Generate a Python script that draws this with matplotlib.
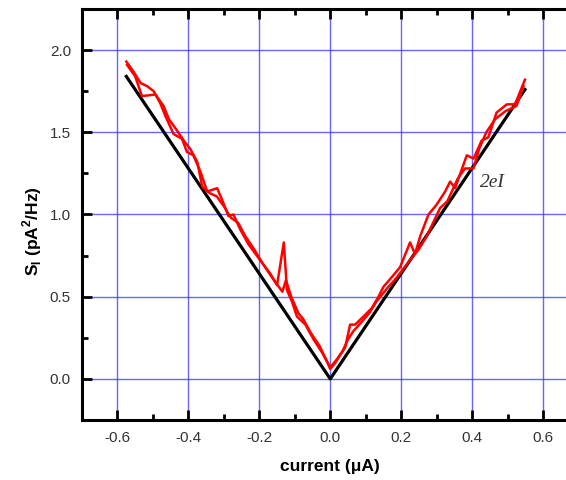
import matplotlib
matplotlib.use("Agg")
import matplotlib.pyplot as plt
from matplotlib.ticker import MultipleLocator
import numpy as np

# Red trace A (sweep 1)
xa = [-0.575, -0.555, -0.535, -0.516, -0.498, -0.480, -0.465, -0.442, -0.418, -0.404,
      -0.386, -0.366, -0.347, -0.319, -0.305, -0.287, -0.273, -0.254, -0.231, -0.197,
      -0.169, -0.150, -0.131, -0.122, -0.108, -0.094, -0.070, -0.047, -0.023, 0.0,
      0.019, 0.042, 0.056, 0.070, 0.094, 0.117, 0.136, 0.150, 0.174, 0.197,
      0.225, 0.239, 0.254, 0.277, 0.300, 0.324, 0.338, 0.352, 0.385, 0.404,
      0.427, 0.446, 0.469, 0.498, 0.521, 0.549]
ya = [1.93, 1.87, 1.80, 1.78, 1.75, 1.68, 1.60, 1.49, 1.46, 1.38,
      1.36, 1.26, 1.14, 1.16, 1.09, 0.99, 1.00, 0.91, 0.82, 0.72,
      0.64, 0.57, 0.83, 0.54, 0.47, 0.38, 0.33, 0.24, 0.16, 0.07,
      0.12, 0.19, 0.33, 0.33, 0.38, 0.43, 0.50, 0.56, 0.62, 0.68,
      0.83, 0.76, 0.87, 1.00, 1.06, 1.14, 1.20, 1.16, 1.36, 1.34,
      1.45, 1.47, 1.62, 1.67, 1.67, 1.82]

# Red trace B (sweep 2)
xb = [-0.573, -0.550, -0.531, -0.493, -0.470, -0.455, -0.435, -0.410, -0.395, -0.375,
      -0.361, -0.340, -0.320, -0.300, -0.280, -0.260, -0.240, -0.215, -0.190, -0.165,
      -0.145, -0.135, -0.125, -0.110, -0.090, -0.075, -0.055, -0.030, -0.010, 0.0,
      0.015, 0.035, 0.050, 0.065, 0.090, 0.110, 0.130, 0.160, 0.185, 0.210,
      0.235, 0.250, 0.270, 0.290, 0.310, 0.330, 0.345, 0.360, 0.380, 0.404,
      0.420, 0.440, 0.465, 0.495, 0.525, 0.545]
yb = [1.91, 1.84, 1.72, 1.73, 1.66, 1.58, 1.52, 1.44, 1.40, 1.32,
      1.17, 1.13, 1.11, 1.05, 0.98, 0.95, 0.87, 0.79, 0.70, 0.62,
      0.56, 0.53, 0.60, 0.50, 0.40, 0.36, 0.28, 0.20, 0.11, 0.06,
      0.10, 0.17, 0.24, 0.29, 0.35, 0.40, 0.47, 0.55, 0.61, 0.68,
      0.75, 0.79, 0.86, 0.95, 1.04, 1.08, 1.15, 1.22, 1.28, 1.28,
      1.40, 1.50, 1.58, 1.63, 1.66, 1.78]

# Black 2eI line
x_shot = [-0.575, 0.0, 0.549]
y_shot = [1.84, 0.0, 1.76]

x_ticks = [-0.6, -0.4, -0.2, 0.0, 0.2, 0.4, 0.6]
y_ticks = [0.0, 0.5, 1.0, 1.5, 2.0]

plt.rcParams['font.family'] = ['Liberation Sans', 'DejaVu Sans']

fig = plt.figure(figsize=(5.66, 4.8), dpi=100)
ax = fig.add_axes([82/566, 1 - 420/480, (578.5 - 82)/566, (420 - 9)/480])

ax.set_xlim(-0.7, 0.7)
ax.set_ylim(-0.25, 2.25)

ax.grid(True, which='major', color='#3333ff', alpha=0.75, linewidth=1.0)
ax.set_axisbelow(True)

ax.plot(x_shot, y_shot, color='black', linewidth=2.3, zorder=3)
ax.plot(xa, ya, color='#ff0000', linewidth=1.8, zorder=4)
ax.plot(xb, yb, color='#ff0000', linewidth=1.8, zorder=4)

ax.text(0.423, 1.17, '2eI', family=['Liberation Serif', 'DejaVu Serif'], style='italic',
        fontsize=14, color='#333333')

ax.set_xticks(x_ticks)
ax.set_yticks(y_ticks)
ax.set_xticklabels([f'{v:.1f}' for v in x_ticks])
ax.set_yticklabels([f'{v:.1f}' for v in y_ticks])
ax.xaxis.set_minor_locator(MultipleLocator(0.1))
ax.yaxis.set_minor_locator(MultipleLocator(0.25))
ax.tick_params(which='major', direction='in', length=7, width=2, top=True,
               labelsize=11, labelcolor='#333333', pad=8)
ax.tick_params(which='minor', direction='in', length=4, width=2, top=True)

for side in ['left', 'bottom', 'top']:
    ax.spines[side].set_linewidth(2.2)
ax.spines['right'].set_visible(False)

ax.set_xlabel('current (\u03bcA)', fontsize=12.5, fontweight='bold')
ax.xaxis.set_label_coords((330 - 82) / (578.5 - 82), -(467 - 420) / 411, transform=ax.transAxes)
ax.xaxis.label.set_va('center')
ax.set_ylabel('S$_\\mathregular{I}$ (pA$^\\mathregular{2}$/Hz)', fontsize=12.5,
              fontweight='bold')
ax.yaxis.set_label_coords(-(82 - 32.5) / (578.5 - 82), (420 - 231) / 411, transform=ax.transAxes)
ax.yaxis.label.set_va('center')

fig.savefig('out.png', dpi=100)
